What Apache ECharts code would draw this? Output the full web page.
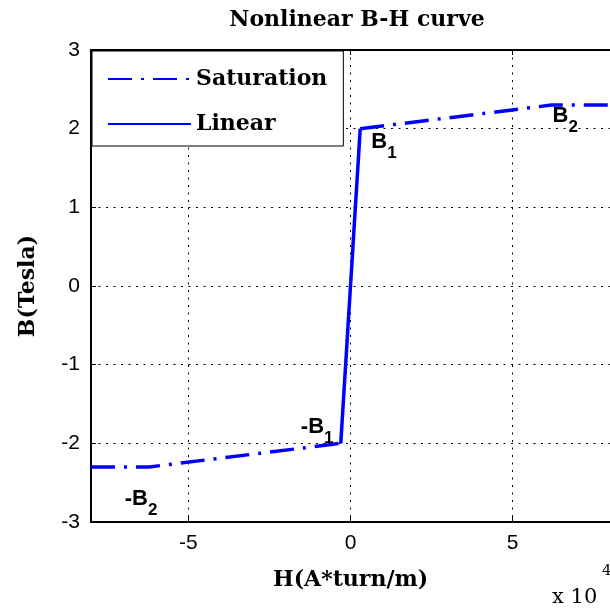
<!DOCTYPE html>
<html><head><meta charset="utf-8">
<script src="https://cdn.jsdelivr.net/npm/echarts@6/dist/echarts.min.js"></script>
<style>html,body{margin:0;padding:0;background:#fff}#c{width:610px;height:611px}</style>
</head><body><div id="c"></div>
<script>
// Data (H in units of 1e4 A*turn/m, B in Tesla)
const satNegH = [-8, -6.2, -0.3];
const satNegB = [-2.3, -2.3, -2.0];
const satPosH = [0.3, 6.2, 8];
const satPosB = [2.0, 2.3, 2.3];
const linH = [-0.3, 0.3];
const linB = [-2.0, 2.0];
const xTicks = [-5, 0, 5];
const yTicks = [-3, -2, -1, 0, 1, 2, 3];
const annMain = ['B', 'B', '-B', '-B'];
const annSub = ['1', '2', '1', '2'];
const annH = [0.64, 6.23, -1.53, -6.96];
const annB = [1.83, 2.16, -1.79, -2.71];

const BLUE = '#0000ff';
const SERIF = 'DejaVu Serif';
const SANS = 'Liberation Sans';

const satData = satNegH.map((h, i) => [h, satNegB[i]])
  .concat([[0, '-']])
  .concat(satPosH.map((h, i) => [h, satPosB[i]]));
const linData = linH.map((h, i) => [h, linB[i]]);
const annData = annH.map((h, i) => ({
  value: [h, annB[i]],
  label: { formatter: '{b|' + annMain[i] + '}{s|' + annSub[i] + '}' }
}));

const dotted = { color: '#000', width: 1, type: [2, 5.5] };

const chart = echarts.init(document.getElementById('c'), null, { renderer: 'canvas' });
chart.setOption({
  animation: false,
  backgroundColor: '#fff',
  title: {
    text: 'Nonlinear B-H curve',
    left: 352, top: 4, textAlign: 'center',
    textStyle: { fontFamily: SERIF, fontWeight: 'bold', fontSize: 22, color: '#000' }
  },
  grid: { left: 91, top: 50, width: 522, height: 472, containLabel: false },
  legend: {
    data: ['Saturation', 'Linear'],
    orient: 'vertical',
    left: 92, top: 51,
    padding: [17, 16, 11, 15],
    itemWidth: 83, itemHeight: 20, itemGap: 23, itemTextGap: 8,
    itemStyle: { opacity: 0 },
    backgroundColor: '#fff', borderColor: '#000', borderWidth: 1, borderRadius: 0,
    textStyle: { fontFamily: SERIF, fontWeight: 'bold', fontSize: 22, color: '#000', lineHeight: 20 }
  },
  xAxis: [{
    type: 'value', min: -8, max: 8, position: 'bottom',
    axisLine: { onZero: false, lineStyle: { color: '#000', width: 2 } },
    axisTick: { inside: true, length: 5, customValues: xTicks, lineStyle: { color: '#000' } },
    axisLabel: { customValues: xTicks, margin: 11, fontFamily: SANS, fontSize: 21, color: '#000' },
    splitLine: { show: true, lineStyle: dotted },
    name: 'H(A*turn/m)', nameLocation: 'middle', nameGap: 47,
    nameTextStyle: { fontFamily: SERIF, fontWeight: 'bold', fontSize: 22, color: '#000' }
  }, {
    type: 'value', min: -8, max: 8, position: 'top',
    axisLine: { onZero: false, lineStyle: { color: '#000', width: 2 } },
    axisTick: { inside: true, length: 5, customValues: xTicks, lineStyle: { color: '#000' } },
    axisLabel: { show: false },
    splitLine: { show: false }
  }],
  yAxis: [{
    type: 'value', min: -3, max: 3, interval: 1, position: 'left',
    axisLine: { onZero: false, lineStyle: { color: '#000', width: 2 } },
    axisTick: { inside: true, length: 5, lineStyle: { color: '#000' } },
    axisLabel: { customValues: yTicks, margin: 11, fontFamily: SANS, fontSize: 21, color: '#000' },
    splitLine: { show: true, lineStyle: dotted },
    name: 'B(Tesla)', nameLocation: 'middle', nameGap: 52, nameRotate: 90,
    nameTextStyle: { fontFamily: SERIF, fontWeight: 'bold', fontSize: 22, color: '#000' }
  }],
  series: [{
    name: 'Saturation', type: 'line', xAxisIndex: 0, yAxisIndex: 0,
    data: satData, symbol: 'none', connectNulls: false,
    lineStyle: { color: BLUE, width: 3.5, type: [24, 9, 3, 9], cap: 'butt' },
    itemStyle: { color: BLUE }, z: 3
  }, {
    name: 'Linear', type: 'line', xAxisIndex: 0, yAxisIndex: 0,
    data: linData, symbol: 'none',
    lineStyle: { color: BLUE, width: 3.5, type: 'solid' },
    itemStyle: { color: BLUE }, z: 4
  }, {
    name: 'annotations', type: 'scatter', xAxisIndex: 0, yAxisIndex: 0,
    data: annData, symbolSize: 0, silent: true, z: 5,
    itemStyle: { opacity: 1, color: '#000' },
    label: {
      show: true, position: 'right', distance: 0, align: 'left', verticalAlign: 'middle',
      color: '#000', opacity: 1,
      rich: {
        b: { fontFamily: SANS, fontWeight: 'bold', fontSize: 22, color: '#000', lineHeight: 40, verticalAlign: 'middle' },
        s: { fontFamily: SANS, fontWeight: 'bold', fontSize: 17, color: '#000', lineHeight: 17, verticalAlign: 'bottom' }
      }
    }
  }],
  graphic: [{
    type: 'text', x: 552, y: 598, silent: true,
    style: { text: 'x 10', fontFamily: SERIF, fontSize: 21, fill: '#000', align: 'left', verticalAlign: 'middle' }
  }, {
    type: 'text', x: 602, y: 571, silent: true,
    style: { text: '4', fontFamily: SERIF, fontSize: 15, fill: '#000', align: 'left', verticalAlign: 'middle' }
  }]
});
</script></body></html>
